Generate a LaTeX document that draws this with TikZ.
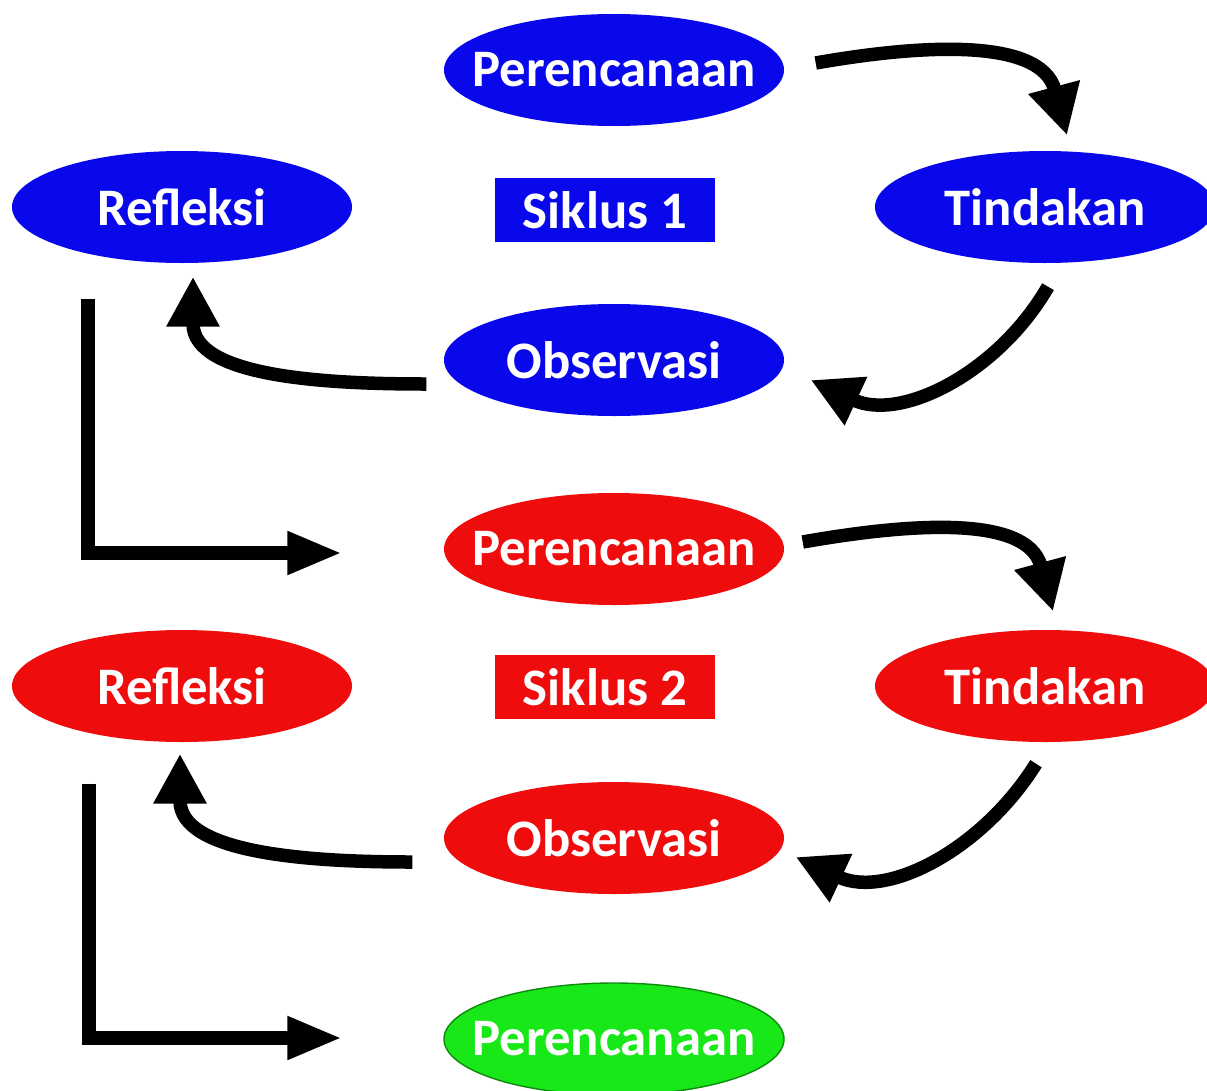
\documentclass[tikz,border=0pt]{standalone}
\usepackage{fontspec}
\setmainfont{Carlito}
\usepackage{tikz}
\usetikzlibrary{arrows.meta,positioning,calc,shapes.geometric}
\definecolor{siklusblue}{RGB}{8,8,235}
\definecolor{siklusred}{RGB}{238,12,12}
\definecolor{siklusgreen}{RGB}{24,232,24}
\newcommand{\teks}[1]{\makebox[0pt]{#1}}

\begin{document}
\begin{tikzpicture}[x=1cm,y=1cm,
  tahap/.style={ellipse,minimum width=3.4cm,minimum height=1.12cm,inner sep=0pt,text=white,font=\fontsize{15}{17}\selectfont\bfseries},
  judul/.style={rectangle,minimum width=2.2cm,minimum height=0.64cm,inner sep=0pt,text=white,font=\fontsize{15}{17}\selectfont\bfseries},
  putar/.style={line width=0.135cm,-{Triangle[length=0.5cm,width=0.5cm]}},
  siku/.style={line width=0.135cm,line join=miter,-{Triangle[length=0.55cm,width=0.4cm]}}]
  \useasboundingbox (0,0) rectangle (12.07,10.90); % 画像全体の範囲
  % 第1サイクル（青）
  \node[tahap,fill=siklusblue] (per1) at (6.14,10.20) {\teks{Perencanaan}}; % 計画
  \node[tahap,fill=siklusblue] (ref1) at (1.82,8.83) {\teks{Refleksi}}; % 反省
  \node[judul,fill=siklusblue] (sik1) at (6.05,8.80) {Siklus 1}; % サイクル名
  \node[tahap,fill=siklusblue] (tin1) at (10.45,8.83) {\teks{Tindakan}}; % 実行
  \node[tahap,fill=siklusblue] (obs1) at (6.14,7.30) {\teks{Observasi}}; % 観察
  % 第2サイクル（赤）
  \node[tahap,fill=siklusred] (per2) at (6.14,5.41) {\teks{Perencanaan}}; % 計画
  \node[tahap,fill=siklusred] (ref2) at (1.82,4.04) {\teks{Refleksi}}; % 反省
  \node[judul,fill=siklusred] (sik2) at (6.05,4.03) {Siklus 2}; % サイクル名
  \node[tahap,fill=siklusred] (tin2) at (10.45,4.04) {\teks{Tindakan}}; % 実行
  \node[tahap,fill=siklusred] (obs2) at (6.14,2.52) {\teks{Observasi}}; % 観察
  % 次のサイクル（緑）
  \node[tahap,fill=siklusgreen,draw=siklusgreen!60!black,thin] (per3) at (6.14,0.51) {\teks{Perencanaan}}; % 次の計画
  % 第1サイクルの矢印
  \draw[putar] ($(per1.east)+(0.31,0.07)$) to[out=10,in=105] ($(tin1.north)+(0.22,0.15)$); % 計画→実行
  \draw[putar] ($(tin1.south)+(0.03,-0.23)$) to[out=240,in=-25] ($(obs1.east)+(0.26,-0.20)$); % 実行→観察
  \draw[putar] ($(obs1.west)+(-0.17,-0.24)$) to[out=180,in=-90] ($(ref1.south)+(0.11,-0.13)$); % 観察→反省
  \draw[siku] ($(ref1.south)+(-0.94,-0.35)$) |- ($(per2.west)+(-1.01,-0.04)$); % 反省→次の計画
  % 第2サイクルの矢印
  \draw[putar] ($(per2.east)+(0.18,0.07)$) to[out=10,in=105] ($(tin2.north)+(0.08,0.18)$); % 計画→実行
  \draw[putar] ($(tin2.south)+(-0.09,-0.21)$) to[out=238,in=-25] ($(obs2.east)+(0.11,-0.19)$); % 実行→観察
  \draw[putar] ($(obs2.west)+(-0.31,-0.24)$) to[out=180,in=-90] ($(ref2.south)+(-0.02,-0.11)$); % 観察→反省
  \draw[siku] ($(ref2.south)+(-0.93,-0.41)$) |- ($(per3.west)+(-1.01,0.01)$); % 反省→次の計画
\end{tikzpicture}
\end{document}
